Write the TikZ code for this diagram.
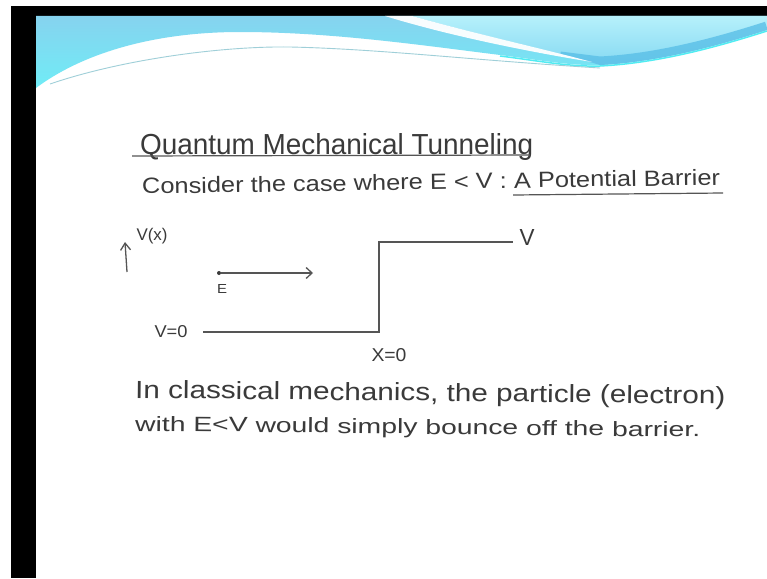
\documentclass[tikz,border=0pt]{standalone}
\usepackage{fontspec}
\setmainfont{Liberation Sans}
\usepackage{graphicx}
\usetikzlibrary{arrows.meta}
\definecolor{ink}{HTML}{3A3A3A}
\definecolor{lineink}{HTML}{555555}
\definecolor{bluetop}{HTML}{86D3EF}
\definecolor{bluebot}{HTML}{70ECF6}
\definecolor{rtop}{HTML}{B6F1FB}
\definecolor{rbot}{HTML}{80D6F1}
\definecolor{deepband}{HTML}{5ABFE7}
\definecolor{cyanedge}{HTML}{52ECF2}
\definecolor{swline}{HTML}{9FCFD8}
\newcommand{\hwtext}[3]{\resizebox{#1}{#2}{#3}}
\begin{document}
\begin{tikzpicture}[x=1pt,y=-1pt,
  hand/.style={inner sep=0pt, text=ink, anchor=base west},
  lbl/.style={inner sep=0pt, text=ink},
  plotline/.style={draw=lineink, line width=1.3pt},
  uline/.style={draw=lineink, line width=1.2pt},
  arr/.style={draw=lineink, line width=1.3pt, -{Straight Barb[length=6pt,width=11pt,line width=1.3pt]}}]
\useasboundingbox (0,0) rectangle (767,578);
% page background and frame
\fill[white] (0,0) rectangle (767,578);
\fill[black] (11,6) rectangle (767,578);
\fill[white] (36,16) rectangle (767,578);
% banner: left blue
\shade[top color=bluetop, bottom color=bluebot]
  (36,16) -- (767,16) -- (767,30)
  .. controls (720,45) and (660,62) .. (600,65)
  .. controls (570,66) and (540,60) .. (500,55)
  .. controls (420,45) and (330,32) .. (240,32)
  .. controls (150,32) and (80,55) .. (36,88) -- cycle;
% banner: right lighter region
\begin{scope}
\clip (412,16) -- (767,16) -- (767,30)
  .. controls (720,45) and (660,62) .. (600,65)
  -- (590,62) .. controls (540,48) and (480,35) .. (412,16) -- cycle;
\shade[top color=rtop, bottom color=rbot] (400,16) rectangle (767,70);
\draw[deepband, line width=13pt, opacity=0.8]
  (767,28) .. controls (720,43) and (660,60) .. (600,63) -- (560,58);
\end{scope}
% white streak
\fill[white, opacity=0.95] (385,16) -- (412,16)
  .. controls (480,35) and (540,48) .. (592,62)
  .. controls (530,52) and (450,36) .. (385,16) -- cycle;
% cyan edge along banner bottom
\draw[cyanedge, line width=1.5pt]
  (767,31) .. controls (720,46) and (660,63) .. (600,66)
  .. controls (570,67) and (540,61) .. (500,56);
% thin line under the white swoosh
\draw[swline, line width=0.9pt]
  (50,84) .. controls (120,60) and (220,46) .. (290,47)
  .. controls (380,49) and (470,60) .. (600,68);

% heading texts
\node[hand] (title) at (140,154) {\hwtext{393pt}{21pt}{Quantum Mechanical Tunneling}};
\coordinate (tu1) at (132,156);
\coordinate (tu2) at (530,155);
\draw[uline] (tu1) -- (tu2);
\node[hand, rotate=0.9] (consider) at (142,194)
  {\hwtext{578pt}{16pt}{Consider the case where E < V : A Potential Barrier}};
\coordinate (pu1) at (513,195);
\coordinate (pu2) at (723,193);
\draw[uline] (pu1) -- (pu2);

% diagram
\coordinate (ax0) at (127,272);
\coordinate (ax1) at (125,242);
\draw[arr, -{Straight Barb[length=7pt,width=10pt,line width=1.3pt]}] (ax0) -- (ax1);
\node[lbl] (vx) at (152,236) {\resizebox{31pt}{!}{V(x)}};
\node[circle, fill=ink, inner sep=0pt, minimum size=4pt] (dot) at (219,273) {};
\coordinate (arrend) at (313,273);
\draw[arr] (dot) -- (arrend);
\node[lbl] (elbl) at (222,289) {\resizebox{10pt}{9pt}{E}};
\coordinate (b0) at (203,332);
\coordinate (c1) at (379,332);
\coordinate (c2) at (379,242);
\coordinate (b1) at (513,242);
\draw[plotline] (b0) -- (c1) -- (c2) -- (b1);
\node[lbl] (v0) at (171,332) {\resizebox{33pt}{12pt}{V=0}};
\node[lbl] (x0) at (389,355) {\resizebox{35pt}{13pt}{X=0}};
\node[lbl] (vlbl) at (527,237) {\resizebox{15pt}{16pt}{V}};

% explanation texts
\node[hand, rotate=-0.6] (line1) at (135,398)
  {\hwtext{590pt}{18pt}{In classical mechanics, the particle (electron)}};
\node[hand, rotate=-0.6] (line2) at (135,431)
  {\hwtext{565pt}{15pt}{with E<V would simply bounce off the barrier.}};
\end{tikzpicture}
\end{document}
